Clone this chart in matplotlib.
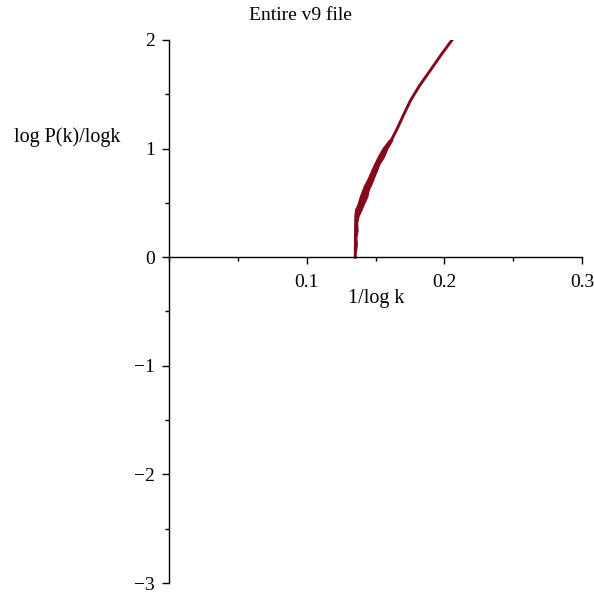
import numpy as np
import matplotlib
matplotlib.use("Agg")
import matplotlib.pyplot as plt
from matplotlib.ticker import MultipleLocator, FixedLocator

plt.rcParams['font.family'] = ['Liberation Serif', 'DejaVu Serif']

# main curve: 1/log k against log P(k)/log k
inv_logk = [0.1353, 0.1354, 0.1360, 0.1395, 0.1425, 0.1470, 0.1530, 0.1575,
            0.1620, 0.1660, 0.1700, 0.1753, 0.1820, 0.1898, 0.1980, 0.2056]
logP_logk = [0.00, 0.20, 0.40, 0.55, 0.65, 0.75, 0.90, 1.00,
             1.09, 1.19, 1.30, 1.44, 1.58, 1.72, 1.87, 2.00]

# scatter envelope of the noisy low-k part
band_y = [0.05, 0.12, 0.18, 0.25, 0.32, 0.38, 0.44, 0.50, 0.56, 0.62, 0.68,
          0.74, 0.80, 0.86, 0.92, 1.00, 1.08]
band_lo = [0.1350, 0.1348, 0.1349, 0.1347, 0.1348, 0.1349, 0.1352, 0.1378,
           0.1395, 0.1412, 0.1430, 0.1450, 0.1470, 0.1492, 0.1515, 0.1550, 0.1598]
band_hi = [0.1357, 0.1364, 0.1360, 0.1369, 0.1366, 0.1376, 0.1398, 0.1418,
           0.1440, 0.1450, 0.1472, 0.1490, 0.1510, 0.1528, 0.1558, 0.1585, 0.1622]

xticks = [0.1, 0.2, 0.3]
yticks = [-3, -2, -1, 0, 1, 2]

W = 594
fig = plt.figure(figsize=(5.94, 5.94), dpi=100)
ax = fig.add_axes([169 / W, 1 - 583 / W, (582 - 169) / W, (583 - 40) / W])

red = '#820a1c'
ax.fill_betweenx(band_y, band_lo, band_hi, color=red, lw=1.0, ec=red)
ax.plot(inv_logk, logP_logk, color=red, lw=2.1)

ax.set_xlim(0, 0.3)
ax.set_ylim(-3, 2)
for s in ['top', 'right']:
    ax.spines[s].set_visible(False)
ax.spines['left'].set_position(('data', 0))
ax.spines['bottom'].set_position(('data', 0))
ax.spines['left'].set_linewidth(1.0)
ax.spines['bottom'].set_linewidth(1.0)

ax.xaxis.set_major_locator(FixedLocator(xticks))
ax.xaxis.set_minor_locator(MultipleLocator(0.05))
ax.yaxis.set_major_locator(FixedLocator(yticks))
ax.yaxis.set_minor_locator(MultipleLocator(0.5))
ax.set_xticklabels([str(t) for t in xticks])
ax.set_yticklabels([('\u2212' + str(abs(t))) if t < 0 else str(t) for t in yticks])
ax.tick_params(which='major', direction='out', length=5, width=1, labelsize=14)
ax.tick_params(which='minor', direction='out', length=3, width=1)
ax.tick_params(axis='x', pad=7)
ax.tick_params(axis='y', pad=5)

fig.text(300 / W, 1 - 15 / W, 'Entire v9 file', ha='center', va='center', fontsize=14)
fig.text(376 / W, 1 - 298 / W, '1/log k', ha='center', va='center', fontsize=14.5)
fig.text(67 / W, 1 - 137 / W, 'log P(k)/logk', ha='center', va='center', fontsize=14.5)

fig.savefig('out.png', dpi=100)
